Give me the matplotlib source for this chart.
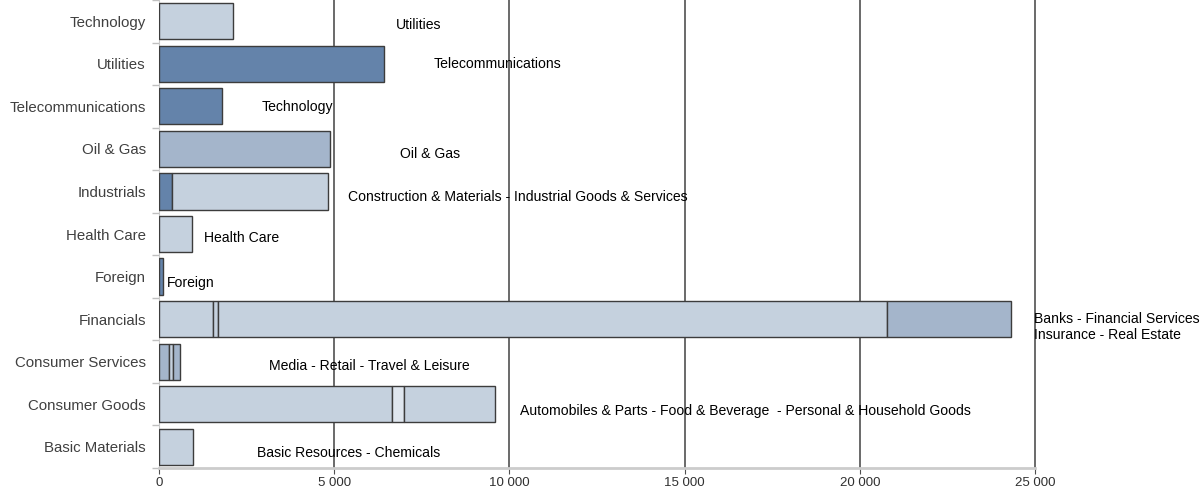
import numpy as np
import matplotlib
matplotlib.use("Agg")
import matplotlib.pyplot as plt

plt.rcParams['font.family'] = ['Liberation Sans', 'DejaVu Sans']

# categories from top to bottom
categories = ["Technology", "Utilities", "Telecommunications", "Oil & Gas",
              "Industrials", "Health Care", "Foreign", "Financials",
              "Consumer Services", "Consumer Goods", "Basic Materials"]

# stacked segment widths per category, and shade of each segment
segments = [
    [2110],
    [6430],
    [1800],
    [4890],
    [370, 4460],
    [940],
    [120],
    [1540, 150, 19100, 3520],
    [290, 110, 190],
    [6660, 340, 2590],
    [980],
]
shades = [
    ["light"],
    ["dark"],
    ["dark"],
    ["medium"],
    ["dark", "light"],
    ["light"],
    ["dark"],
    ["light", "light", "light", "medium"],
    ["medium", "light", "medium"],
    ["light", "pale", "light"],
    ["light"],
]

# sub-sector notes next to the bars
notes = ["Utilities", "Telecommunications", "Technology", "Oil & Gas",
         "Construction & Materials - Industrial Goods & Services", "Health Care",
         "Foreign", "Banks - Financial Services\nInsurance - Real Estate",
         "Media - Retail - Travel & Leisure",
         "Automobiles & Parts - Food & Beverage  - Personal & Household Goods",
         "Basic Resources - Chemicals"]
note_x = [6764, 7848, 2940, 6878, 5394, 1284, 228, 24970, 3140, 10300, 2797]
note_y = [0.09, 1.0, 2.02, 3.12, 4.13, 5.1, 6.14, 7.18, 8.11, 9.15, 10.14]

xticks = [0, 5000, 10000, 15000, 20000, 25000]
xticklabels = ["0", "5 000", "10 000", "15 000", "20 000", "25 000"]

palette = {"light": "#c5d1de", "medium": "#a4b5cb", "dark": "#6483aa", "pale": "#dfe6ee"}

fig = plt.figure(figsize=(12.02, 4.9), dpi=100)
ax = fig.add_axes([159 / 1202, 22 / 490, (1035 - 159) / 1202, 468 / 490])

y = np.arange(len(categories))
for i, (widths, cols) in enumerate(zip(segments, shades)):
    left = 0
    for w, c in zip(widths, cols):
        ax.barh(i, w, left=left, height=0.85, color=palette[c],
                edgecolor="#3c3c3c", linewidth=1.0, zorder=3)
        left += w

for x in xticks[1:]:
    ax.axvline(x, color="#505050", linewidth=1.2, zorder=1, clip_on=False)

for txt, tx, ty in zip(notes, note_x, note_y):
    ax.text(tx, ty, txt, fontsize=10.1, color="black", va="center", ha="left",
            linespacing=1.2, zorder=4)

ax.set_xlim(0, 25000)
ax.set_ylim(len(categories) - 0.5, -0.5)

ax.set_yticks(y)
ax.set_yticklabels(categories, fontsize=10.8, color="#404040")
ax.set_yticks(np.arange(len(categories) + 1) - 0.5, minor=True)
ax.tick_params(axis="y", which="major", length=0, pad=9.5)
ax.tick_params(axis="y", which="minor", length=5, color="#c0c0c0", width=1)

ax.set_xticks(xticks)
ax.set_xticklabels(xticklabels, fontsize=9.5, color="#303030")
ax.tick_params(axis="x", length=4, color="#505050", pad=2.5)

for s in ["top", "right"]:
    ax.spines[s].set_visible(False)
ax.spines["left"].set_color("#c8c8c8")
ax.spines["bottom"].set_color("#cccccc")
ax.spines["bottom"].set_linewidth(2)

fig.savefig("out.png", dpi=100)
